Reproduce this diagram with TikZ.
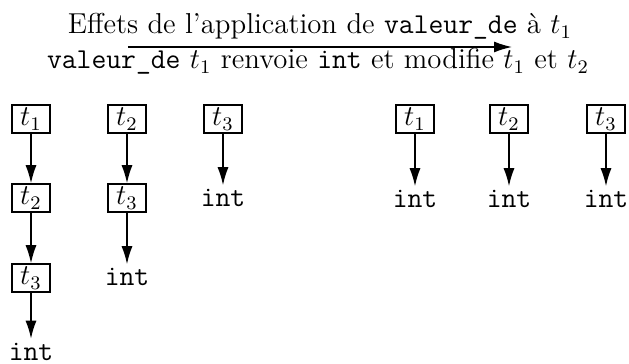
\documentclass[tikz,border=0pt]{standalone}
\usetikzlibrary{arrows.meta}
\begin{document}
\begin{tikzpicture}[x=0.4167pt,y=-0.4167pt,
  every node/.append style={font=\fontsize{12}{14.4}\selectfont},
  tbox/.style={draw, line width=0.6pt, inner sep=0pt, minimum width=15.8pt, minimum height=11.7pt},
  tint/.style={inner sep=1.5pt, font=\fontsize{12}{14.4}\selectfont\ttfamily},
  conn/.style={line width=0.6pt, -{Latex[length=7.5pt,width=4.6pt]}},
  ttl/.style={anchor=base, inner sep=0pt}]
\useasboundingbox (0,0) rectangle (629,364);
% title
\coordinate (as) at (128,47);
\coordinate (ae) at (512,47);
\draw[conn] (as) -- (ae);
\node[ttl] (l1) at (320,34) {Effets de l'application de \texttt{valeur\_de} à $t_1$};
\node[ttl] (l2) at (318,69) {\texttt{valeur\_de} $t_1$ renvoie \texttt{int} et modifie $t_1$ et $t_2$};
% column 1
\node[tbox] (a1) at (31,119) {$t_1$};
\node[tbox] (a2) at (31,198) {$t_2$};
\node[tbox] (a3) at (31,278) {$t_3$};
\node[tint] (a4) at (31,351.5) {int};
\draw[conn] (a1) -- (a2);
\draw[conn] (a2) -- (a3);
\draw[conn] (a3) -- (a4);
% column 2
\node[tbox] (b1) at (127,119) {$t_2$};
\node[tbox] (b2) at (127,198) {$t_3$};
\node[tint] (b3) at (127,277) {int};
\draw[conn] (b1) -- (b2);
\draw[conn] (b2) -- (b3);
% column 3
\node[tbox] (c1) at (223,119) {$t_3$};
\node[tint] (c2) at (223,198) {int};
\draw[conn] (c1) -- (c2);
% right side
\node[tbox] (d1) at (415,119) {$t_1$};
\node[tint] (d2) at (415,199) {int};
\draw[conn] (d1) -- (d2);
\node[tbox] (e1) at (509,119) {$t_2$};
\node[tint] (e2) at (509,199) {int};
\draw[conn] (e1) -- (e2);
\node[tbox] (f1) at (606,119) {$t_3$};
\node[tint] (f2) at (606,199) {int};
\draw[conn] (f1) -- (f2);
\end{tikzpicture}
\end{document}
